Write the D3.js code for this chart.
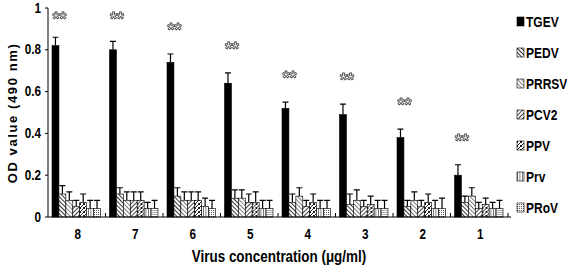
<!DOCTYPE html>
<html>
  <head>
    <script src="https://d3js.org/d3.v7.min.js"></script>
    <style>
      body { margin: 0; background: #fff; }
      text { font-family: "Liberation Sans", Arial, sans-serif; font-weight: bold; fill: #000; }
      .star { filter: grayscale(1); }
    </style>
  </head>
  <body>
    <svg width="567" height="267"></svg>
    <script>
      const concentrations = ["8", "7", "6", "5", "4", "3", "2", "1"];
      const viruses = ["TGEV", "PEDV", "PRRSV", "PCV2", "PPV", "Prv", "PRoV"];
      // mean OD per virus, one value per concentration
      const means = {
        TGEV:  [0.82, 0.80, 0.74, 0.64, 0.52, 0.49, 0.38, 0.20],
        PEDV:  [0.11, 0.11, 0.10, 0.09, 0.07, 0.06, 0.05, 0.07],
        PRRSV: [0.08, 0.08, 0.08, 0.09, 0.10, 0.08, 0.08, 0.10],
        PCV2:  [0.05, 0.08, 0.08, 0.07, 0.05, 0.05, 0.05, 0.04],
        PPV:   [0.07, 0.08, 0.08, 0.07, 0.07, 0.06, 0.07, 0.06],
        Prv:   [0.04, 0.04, 0.05, 0.04, 0.04, 0.04, 0.04, 0.04],
        PRoV:  [0.04, 0.04, 0.04, 0.04, 0.04, 0.04, 0.04, 0.04]
      };
      const errors = {
        TGEV:  [0.04, 0.04, 0.04, 0.05, 0.03, 0.05, 0.04, 0.05],
        PEDV:  [0.04, 0.03, 0.04, 0.04, 0.04, 0.05, 0.03, 0.03],
        PRRSV: [0.04, 0.04, 0.04, 0.04, 0.04, 0.05, 0.04, 0.04],
        PCV2:  [0.03, 0.04, 0.04, 0.04, 0.03, 0.03, 0.03, 0.03],
        PPV:   [0.04, 0.04, 0.04, 0.05, 0.04, 0.04, 0.04, 0.03],
        Prv:   [0.04, 0.03, 0.04, 0.04, 0.04, 0.04, 0.04, 0.03],
        PRoV:  [0.04, 0.04, 0.04, 0.04, 0.04, 0.04, 0.05, 0.04]
      };
      const yTicks = [0, 0.2, 0.4, 0.6, 0.8, 1];

      const svg = d3.select("svg");
      const margin = {left: 48, right: 59, top: 8, bottom: 50};
      const width = 567 - margin.left - margin.right;
      const height = 267 - margin.top - margin.bottom;
      const narrow = 0.84; // horizontal squeeze to mimic a condensed face

      // fill patterns for the hatched series
      const defs = svg.append("defs");
      function hatch(id, size, angle, sw) {
        const p = defs.append("pattern").attr("id", id)
          .attr("patternUnits", "userSpaceOnUse")
          .attr("width", size).attr("height", size)
          .attr("patternTransform", `rotate(${angle})`);
        p.append("rect").attr("width", size).attr("height", size).attr("fill", "#fff");
        p.append("line").attr("x1", 0).attr("y1", 0).attr("x2", 0).attr("y2", size)
          .attr("stroke", "#000").attr("stroke-width", sw);
      }
      hatch("p-pedv", 3, -45, 1.6);
      hatch("p-prrsv", 3, -45, 1);
      hatch("p-pcv2", 3, 45, 1.5);
      hatch("p-prv", 2.5, 0, 1);
      const ppv = defs.append("pattern").attr("id", "p-ppv")
        .attr("patternUnits", "userSpaceOnUse").attr("width", 4).attr("height", 4);
      ppv.append("rect").attr("width", 4).attr("height", 4).attr("fill", "#fff");
      ppv.append("path").attr("d", "M0,4 L4,0 M0,0 L1,1 M3,3 L4,4").attr("stroke", "#000").attr("stroke-width", 0.9);
      const prov = defs.append("pattern").attr("id", "p-prov")
        .attr("patternUnits", "userSpaceOnUse").attr("width", 2).attr("height", 2);
      prov.append("rect").attr("width", 2).attr("height", 2).attr("fill", "#fff");
      prov.append("rect").attr("width", 1).attr("height", 1).attr("fill", "#555");

      const fills = {
        TGEV: "#000", PEDV: "url(#p-pedv)", PRRSV: "url(#p-prrsv)", PCV2: "url(#p-pcv2)",
        PPV: "url(#p-ppv)", Prv: "url(#p-prv)", PRoV: "url(#p-prov)"
      };

      const g = svg.append("g").attr("transform", `translate(${margin.left},${margin.top})`);

      const x0 = d3.scaleBand().domain(concentrations).range([0, width]);
      const x1 = d3.scaleBand().domain(viruses).range([4, x0.bandwidth() - 5]);
      const y = d3.scaleLinear().domain([0, 1]).range([height, 0]);

      const groups = g.selectAll(".grp").data(concentrations).enter().append("g")
        .attr("transform", d => `translate(${x0(d)},0)`);

      const cells = groups.selectAll(".cell")
        .data((c, i) => viruses.map(v => ({v, m: means[v][i], e: errors[v][i]})))
        .enter().append("g");

      cells.append("rect")
        .attr("x", d => x1(d.v))
        .attr("y", d => y(d.m))
        .attr("width", x1.bandwidth())
        .attr("height", d => y(0) - y(d.m))
        .attr("fill", d => fills[d.v])
        .attr("stroke", "#000").attr("stroke-width", 0.6);

      cells.append("path")
        .attr("d", d => {
          const cx = x1(d.v) + x1.bandwidth() / 2;
          const yt = y(d.m + d.e);
          return `M${cx},${y(d.m)}V${yt}M${cx - 3},${yt}H${cx + 3}`;
        })
        .attr("stroke", "#000").attr("stroke-width", 1.2).attr("fill", "none");

      // significance marks above TGEV
      groups.append("text")
        .attr("class", "star")
        .attr("x", x1("TGEV") + x1.bandwidth() / 2 + 4)
        .attr("y", (c, i) => Math.max(y(means.TGEV[i] + errors.TGEV[i] + 0.085), 17))
        .attr("text-anchor", "middle")
        .style("font-size", "18px")
        .style("fill", "#fff").style("stroke", "#444").style("stroke-width", 0.8)
        .text("**");

      // axes
      g.append("line").attr("x1", 0).attr("x2", 0).attr("y1", 0).attr("y2", height).attr("stroke", "#000");
      g.append("line").attr("x1", 0).attr("x2", width + 3).attr("y1", height).attr("y2", height).attr("stroke", "#000");
      g.selectAll(".ytick").data(yTicks).enter().append("line")
        .attr("x1", -3).attr("x2", 0).attr("y1", d => y(d)).attr("y2", d => y(d)).attr("stroke", "#000");
      g.selectAll(".ylab").data(yTicks).enter().append("text")
        .attr("transform", d => `translate(-7,${y(d) + 4.5}) scale(${narrow},1)`)
        .attr("text-anchor", "end").style("font-size", "14px")
        .text(d => d3.format("~g")(d));
      g.selectAll(".xtick").data(concentrations).enter().append("line")
        .attr("x1", d => x0(d) + x0.bandwidth()).attr("x2", d => x0(d) + x0.bandwidth())
        .attr("y1", height - 4).attr("y2", height).attr("stroke", "#000");
      g.selectAll(".xlab").data(concentrations).enter().append("text")
        .attr("transform", d => `translate(${x0(d) + x0.bandwidth() / 2 + 1},${height + 22}) scale(${narrow},1)`)
        .attr("text-anchor", "middle").style("font-size", "14px")
        .text(d => d);

      svg.append("text")
        .attr("transform", `translate(279,262) scale(${narrow},1)`).attr("text-anchor", "middle")
        .style("font-size", "16px")
        .text("Virus concentration (μg/ml)");
      svg.append("text")
        .attr("transform", "translate(17,113) rotate(-90)")
        .attr("text-anchor", "middle")
        .style("font-size", "13px").style("letter-spacing", "1.6px")
        .text("OD value (490 nm)");

      // legend
      const legend = svg.append("g").attr("transform", "translate(517,0)");
      const li = legend.selectAll("g").data(viruses).enter().append("g")
        .attr("transform", (d, i) => `translate(0,${22 + i * 31})`);
      li.append("rect").attr("x", 0).attr("y", -5).attr("width", 7).attr("height", 9)
        .attr("fill", d => fills[d]).attr("stroke", "#000").attr("stroke-width", 0.6);
      li.append("text").attr("transform", `translate(9,5) scale(0.8,1)`)
        .style("font-size", "15px").text(d => d);
    </script>
  </body>
</html>
